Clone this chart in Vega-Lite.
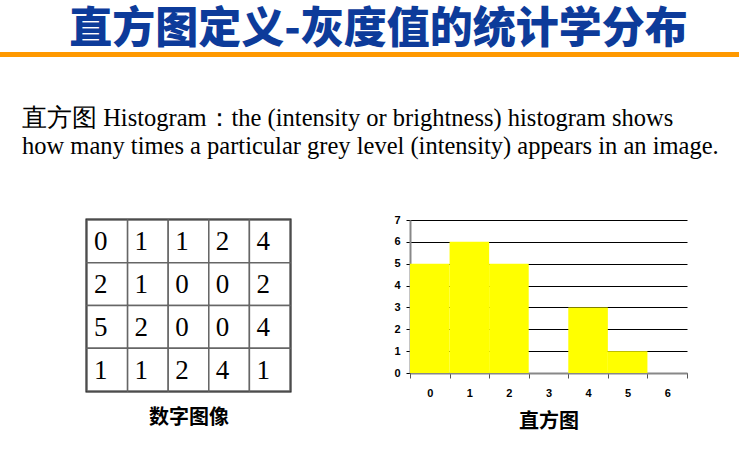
{
  "$schema": "https://vega.github.io/schema/vega-lite/v6.json",
  "background": "white",
  "padding": 0,
  "spacing": 0,
  "config": {
    "view": {"stroke": null},
    "concat": {"spacing": 0}
  },
  "vconcat": [
    {
      "width": 739,
      "height": 49,
      "data": {"values": [{"t": "直方图定义-灰度值的统计学分布"}]},
      "mark": {"type": "text", "font": "Noto Sans CJK SC", "fontWeight": 900, "fontSize": 43, "color": "#0d3b9a", "baseline": "middle", "align": "center", "dx": 9, "dy": 5},
      "encoding": {"text": {"field": "t"}}
    },
    {
      "width": 739,
      "height": 5,
      "view": {"fill": "#FF9900", "stroke": null},
      "data": {"values": []},
      "mark": "text",
      "encoding": {}
    },
    {
      "width": 10,
      "height": 48,
      "data": {"values": []},
      "mark": "text",
      "encoding": {}
    },
    {
      "title": {
        "text": ["直方图 Histogram：the (intensity or brightness) histogram shows", "how many times a particular grey level (intensity) appears in an image."],
        "anchor": "start",
        "frame": "group",
        "dx": 22,
        "font": "Liberation Serif",
        "fontSize": 24.5,
        "fontWeight": "normal",
        "color": "black",
        "lineHeight": 28,
        "offset": 55
      },
      "bounds": "flush",
      "spacing": 0,
      "hconcat": [
        {
          "width": 87,
          "height": 10,
          "data": {"values": []},
          "mark": "text",
          "encoding": {}
        },
        {
          "width": 203,
          "height": 171,
          "view": {"stroke": "black", "strokeWidth": 3},
          "data": {"values": [
            {"row": 1, "col": 1, "v": 0}, {"row": 1, "col": 2, "v": 1}, {"row": 1, "col": 3, "v": 1}, {"row": 1, "col": 4, "v": 2}, {"row": 1, "col": 5, "v": 4},
            {"row": 2, "col": 1, "v": 2}, {"row": 2, "col": 2, "v": 1}, {"row": 2, "col": 3, "v": 0}, {"row": 2, "col": 4, "v": 0}, {"row": 2, "col": 5, "v": 2},
            {"row": 3, "col": 1, "v": 5}, {"row": 3, "col": 2, "v": 2}, {"row": 3, "col": 3, "v": 0}, {"row": 3, "col": 4, "v": 0}, {"row": 3, "col": 5, "v": 4},
            {"row": 4, "col": 1, "v": 1}, {"row": 4, "col": 2, "v": 1}, {"row": 4, "col": 3, "v": 2}, {"row": 4, "col": 4, "v": 4}, {"row": 4, "col": 5, "v": 1}
          ]},
          "encoding": {
            "x": {"field": "col", "type": "ordinal", "scale": {"paddingInner": 0, "paddingOuter": 0},
              "axis": {"labels": false, "ticks": false, "domain": false, "title": "数字图像", "titleFont": "Noto Sans CJK SC", "titleFontSize": 20, "titleFontWeight": "bold", "titleColor": "black", "titlePadding": 16}},
            "y": {"field": "row", "type": "ordinal", "scale": {"paddingInner": 0, "paddingOuter": 0}, "axis": null}
          },
          "layer": [
            {"mark": {"type": "rect", "fill": "white", "stroke": "#666", "strokeWidth": 1.5}},
            {
              "mark": {"type": "text", "font": "Liberation Serif", "fontSize": 27, "color": "black", "align": "left", "baseline": "middle", "dx": 7, "dy": 1},
              "encoding": {
                "x": {"field": "col", "type": "ordinal", "bandPosition": 0},
                "text": {"field": "v"}
              }
            }
          ]
        },
        {
          "width": 120,
          "height": 10,
          "data": {"values": []},
          "mark": "text",
          "encoding": {}
        },
        {
          "width": 277,
          "height": 153,
          "data": {"values": [
            {"level": "0", "count": 5}, {"level": "1", "count": 6}, {"level": "2", "count": 5}, {"level": "3", "count": 0},
            {"level": "4", "count": 3}, {"level": "5", "count": 1}, {"level": "6", "count": 0}
          ]},
          "mark": {"type": "bar", "color": "#FFFF00"},
          "encoding": {
            "x": {"field": "level", "type": "ordinal", "sort": null, "scale": {"paddingInner": 0, "paddingOuter": 0},
              "axis": {"labelAngle": 0, "labelFont": "Liberation Sans", "labelFontWeight": "bold", "labelFontSize": 11, "labelColor": "black", "labelPadding": 9, "tickBand": "extent", "tickSize": 5, "tickColor": "#555", "domainColor": "#888", "domainWidth": 2, "grid": false,
                "title": "直方图", "titleFont": "Noto Sans CJK SC", "titleFontSize": 20, "titleFontWeight": "bold", "titleColor": "black", "titlePadding": 13}},
            "y": {"field": "count", "type": "quantitative", "scale": {"domain": [0, 7], "nice": false},
              "axis": {"values": [0, 1, 2, 3, 4, 5, 6, 7], "grid": true, "gridColor": "black", "gridOpacity": 1, "gridWidth": 1, "domainColor": "#888", "domainWidth": 2, "tickColor": "black", "tickSize": 4, "labelFont": "Liberation Sans", "labelFontWeight": "bold", "labelFontSize": 11, "labelColor": "black", "labelPadding": 6, "title": null}}
          }
        }
      ]
    },
    {
      "width": 10,
      "height": 40,
      "data": {"values": []},
      "mark": "text",
      "encoding": {}
    }
  ]
}
